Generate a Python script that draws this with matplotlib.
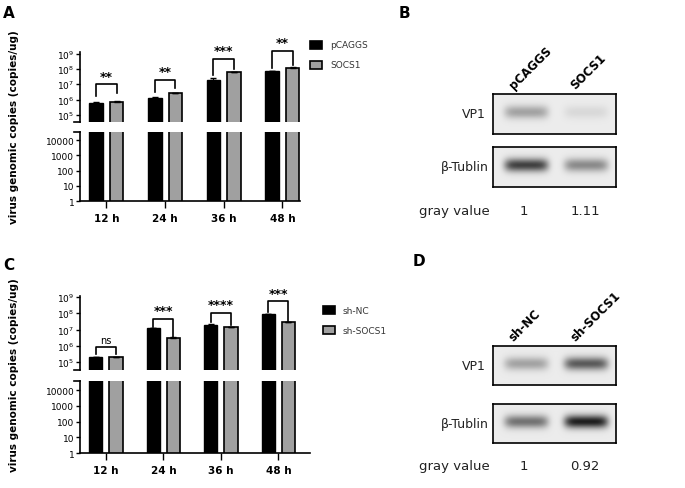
import numpy as np
import matplotlib
matplotlib.use("Agg")
import matplotlib.pyplot as plt
from matplotlib.patches import Rectangle

W, H = 685, 489
times = ["12 h", "24 h", "36 h", "48 h"]
# Panel A
a_ctrl = [6e5, 1.3e6, 1.8e7, 7e7]
a_ctrl_err = [0.5e5, 1e5, 0.6e7, 0.4e7]
a_trt = [7e5, 2.5e6, 6e7, 1.2e8]
a_trt_err = [0.8e5, 1e5, 0.4e7, 0.6e7]
a_br = [1.0e7, 2.0e7, 4.5e8, 1.5e9]
a_br_low = [(1.6e6, 2.5e6), (3.2e6, 6e6), (4.0e7, 1.0e8), (1.1e8, 1.8e8)]
a_sig = ["**", "**", "***", "**"]
a_names = ["pCAGGS", "SOCS1"]
# Panel C
c_ctrl = [2e5, 1.2e7, 2e7, 9e7]
c_ctrl_err = [0.1e5, 0.1e7, 0.1e7, 0.5e7]
c_trt = [2e5, 3e6, 1.4e7, 2.8e7]
c_trt_err = [0.1e5, 0.3e6, 0.1e7, 0.2e7]
c_br = [9e5, 4.5e7, 1.1e8, 5.5e8]
c_br_low = [(3.0e5, 3.0e5), (1.4e7, 3.6e6), (2.8e7, 1.8e7), (1.2e8, 3.0e7)]
c_sig = ["ns", "***", "****", "***"]
c_names = ["sh-NC", "sh-SOCS1"]
# Blots
b_lanes = ["pCAGGS", "SOCS1"]
b_vp1 = [0.3, 0.08]
b_tub = [0.7, 0.4]
b_gray = ["1", "1.11"]
d_lanes = ["sh-NC", "sh-SOCS1"]
d_vp1 = [0.3, 0.6]
d_tub = [0.5, 0.85]
d_gray = ["1", "0.92"]

fig = plt.figure(figsize=(6.85, 4.89), dpi=100)

def ax_px(x0, y0, x1, y1):
    return fig.add_axes([x0 / W, 1 - y1 / H, (x1 - x0) / W, (y1 - y0) / H])

def bar_panel(top_box, bot_box, ylim_top, ylim_bot, xmax, ctrl, ce, trt, te, br, brlow, sig, names, leg_xy):
    axt = ax_px(*top_box)
    axb = ax_px(*bot_box)
    x = np.arange(len(times))
    w = 0.23
    off = 0.175
    for ax in (axt, axb):
        ax.bar(x - off, ctrl, w, color="black", edgecolor="black", lw=1)
        ax.bar(x + off, trt, w, color="#a0a0a0", edgecolor="black", lw=1.2)
        ax.errorbar(x - off, ctrl, yerr=[np.zeros(4), ce], fmt="none", ecolor="black", capsize=2, lw=0.8)
        ax.errorbar(x + off, trt, yerr=[np.zeros(4), te], fmt="none", ecolor="black", capsize=2, lw=0.8)
        ax.set_yscale("log")
        ax.set_xlim(-0.45, xmax)
        for s in ("top", "right"):
            ax.spines[s].set_visible(False)
        ax.spines["left"].set_linewidth(1.2)
        ax.tick_params(axis="y", labelsize=6.5, width=1, length=3, pad=1, which="major")
        ax.tick_params(axis="y", which="minor", left=False)
    axt.set_ylim(*ylim_top)
    axb.set_ylim(*ylim_bot)
    axt.spines["bottom"].set_visible(False)
    axt.set_xticks([])
    axt.set_yticks([1e5, 1e6, 1e7, 1e8, 1e9])
    axt.set_yticklabels([r"$10^{%d}$" % k for k in range(5, 10)])
    axb.set_yticks([1, 10, 100, 1000, 10000])
    axb.set_yticklabels(["1", "10", "100", "1000", "10000"])
    axb.set_xticks(x)
    axb.set_xticklabels(times, fontsize=7.5, fontweight="bold")
    axb.spines["bottom"].set_linewidth(1.2)
    axb.tick_params(axis="x", width=1, length=5)
    axt.plot([-0.55, -0.45], [ylim_top[0]] * 2, color="black", lw=1.2, clip_on=False)
    axb.plot([-0.55, -0.45], [ylim_bot[1]] * 2, color="black", lw=1.2, clip_on=False)
    for i in range(4):
        l, r = brlow[i]
        axt.plot([i - off, i - off, i + off, i + off], [l, br[i], br[i], r], color="black", lw=1.2, clip_on=False)
        fs = 7 if sig[i] == "ns" else 9
        axt.text(i, br[i] * 1.25, sig[i], ha="center", va="bottom", fontsize=fs,
                 fontweight="normal" if sig[i] == "ns" else "bold", clip_on=False)
    fig.text(14 / W, 1 - ((top_box[1] + bot_box[3]) / 2) / H, "virus genomic copies (copies/ug)", rotation=90,
             ha="center", va="center", fontsize=7.5, fontweight="bold")
    lx, ly = leg_xy
    for j, (c, n) in enumerate(zip(["black", "#a0a0a0"], names)):
        yy = ly + j * 20
        fig.patches.append(Rectangle((lx / W, 1 - (yy + 4) / H), 12 / W, 8 / H, transform=fig.transFigure,
                                     facecolor=c, edgecolor="black", lw=1.2))
        fig.text((lx + 20) / W, 1 - yy / H, n, fontsize=6.5, va="center", color="#333333")

bar_panel((80, 53, 300, 123), (80, 133, 300, 202), (10 ** 4.54, 10 ** 9.1), (1, 10 ** 4.53), 3.3,
          a_ctrl, a_ctrl_err, a_trt, a_trt_err, a_br, a_br_low, a_sig, a_names, (310, 46))
bar_panel((80, 297, 310, 371), (80, 382, 310, 454), (10 ** 4.51, 10 ** 9.06), (1, 10 ** 4.58), 3.55,
          c_ctrl, c_ctrl_err, c_trt, c_trt_err, c_br, c_br_low, c_sig, c_names, (323, 311))

def blot(box, strengths):
    x0, y0, x1, y1 = box
    ax = ax_px(x0, y0, x1, y1)
    nx, ny = 123, 40
    xs = np.linspace(0, 1, nx)[None, :]
    ys = np.linspace(0, 1, ny)[:, None]
    img = np.full((ny, nx), 0.08)
    for c, s in zip([0.27, 0.76], strengths):
        img = img + s * np.exp(-((xs - c) / 0.18) ** 6) * np.exp(-((ys - 0.45) / 0.17) ** 2)
    ax.imshow(img, cmap="gray_r", vmin=0, vmax=1.05, aspect="auto", interpolation="bicubic")
    ax.set_xticks([]); ax.set_yticks([])
    for s in ax.spines.values():
        s.set_linewidth(1.2)
    return ax

def blot_panel(letter, lxy, boxes, vp1, tub, lanes, gray, gy):
    fig.text(lxy[0] / W, 1 - lxy[1] / H, letter, fontsize=11, fontweight="bold", va="center")
    blot(boxes[0], vp1)
    blot(boxes[1], tub)
    fig.text(486 / W, 1 - ((boxes[0][1] + boxes[0][3]) / 2) / H, "VP1", fontsize=9, ha="right", va="center", color="#222222")
    fig.text(489 / W, 1 - ((boxes[1][1] + boxes[1][3]) / 2) / H, "β-Tublin", fontsize=9, ha="right", va="center", color="#222222")
    for i, (ln, g) in enumerate(zip(lanes, gray)):
        cx = 493 + 123 * (0.25 + 0.5 * i)
        fig.text((cx - 8) / W, 1 - (boxes[0][1] - 3) / H, ln, rotation=45, fontsize=8.5, fontweight="bold",
                 ha="left", va="bottom", rotation_mode="anchor")
        fig.text(cx / W, 1 - gy / H, g, fontsize=9.5, ha="center", va="center", color="#222222")
    fig.text(490 / W, 1 - gy / H, "gray value", fontsize=9.5, ha="right", va="center", color="#222222")

blot_panel("B", (399, 13), [(493, 95, 616, 135), (493, 148, 616, 188)], b_vp1, b_tub, b_lanes, b_gray, 212)
blot_panel("D", (413, 262), [(493, 347, 616, 386), (493, 405, 616, 444)], d_vp1, d_tub, d_lanes, d_gray, 467)
fig.text(3 / W, 1 - 13 / H, "A", fontsize=11, fontweight="bold", va="center")
fig.text(3 / W, 1 - 265 / H, "C", fontsize=11, fontweight="bold", va="center")

fig.savefig("out.png", dpi=100)
